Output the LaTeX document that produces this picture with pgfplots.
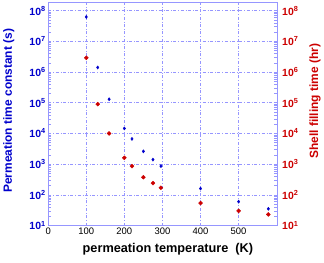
\documentclass[border=0pt]{standalone}
\usepackage{pgfplots}
\pgfplotsset{compat=1.18}
\usepackage{fontspec}
\setmainfont{Liberation Sans}
\definecolor{gridc}{RGB}{150,150,255}
\definecolor{bl}{RGB}{0,0,204}
\definecolor{rd}{RGB}{204,0,0}
\begin{document}
\begin{tikzpicture}
\begin{axis}[
  clip=false,
  scale only axis, width=229bp, height=224bp,
  xmin=0, xmax=600, ymode=log, ymin=10, ymax=1.9e8,
  ytick={1e1,1e2,1e3,1e4,1e5,1e6,1e7,1e8},
  yticklabels={\textbf{10\textsuperscript{1}},\textbf{10\textsuperscript{2}},\textbf{10\textsuperscript{3}},\textbf{10\textsuperscript{4}},\textbf{10\textsuperscript{5}},\textbf{10\textsuperscript{6}},\textbf{10\textsuperscript{7}},\textbf{10\textsuperscript{8}}},
  minor ytick={},
  tick align=inside, major tick length=3bp,
  every tick/.style={gridc},
  axis line style={gridc},
  yticklabel style={font=\fontsize{10.5}{11}\selectfont, bl, xshift=1bp},
  xticklabel style={font=\fontsize{9.5}{10}\selectfont, /pgf/number format/assume math mode=true, yshift=1bp},
  axis y line*=left, axis x line*=box,
  xtick={0,100,200,300,400,500},
  grid=major, grid style={gridc, dash dot, line width=0.6pt},
  xlabel={permeation temperature\ \ (K)},
  ylabel={Permeation time constant (s)},
  every axis y label/.style={at={(axis description cs:-0.172,0.513)}, rotate=90, anchor=center, font=\fontsize{12}{13}\selectfont\bfseries, text=bl},
  every axis x label/.style={at={(axis description cs:0.524,-0.108)}, anchor=center, font=\fontsize{12.8}{14}\selectfont\bfseries},
  separate axis lines,
  ]
\addplot[only marks, mark=diamond*, mark size=1.6pt, color=bl] coordinates {
(100,6.2e7) (130,1.4e6) (160,1.3e5) (200,1.45e4) (220,6.6e3) (250,2.6e3)
(275,1.4e3) (296,860) (400,160) (500,60) (578,35)
};
\path (axis description cs:-0.2096,-0.1652) rectangle (axis description cs:1.2052,1.0089);
\end{axis}
\begin{axis}[
  scale only axis, width=229bp, height=224bp,
  xmin=0, xmax=600, ymode=log, ymin=10, ymax=1.9e8,
  ytick={1e1,1e2,1e3,1e4,1e5,1e6,1e7,1e8},
  yticklabels={\textbf{10\textsuperscript{1}},\textbf{10\textsuperscript{2}},\textbf{10\textsuperscript{3}},\textbf{10\textsuperscript{4}},\textbf{10\textsuperscript{5}},\textbf{10\textsuperscript{6}},\textbf{10\textsuperscript{7}},\textbf{10\textsuperscript{8}}},
  minor ytick={},
  tick align=inside, major tick length=3bp,
  every tick/.style={gridc},
  axis line style={gridc},
  yticklabel style={font=\fontsize{10.5}{11}\selectfont, rd, xshift=2bp},
  axis y line*=right, axis x line=none,
  ylabel={Shell filling time (hr)},
  every axis y label/.style={at={(axis description cs:1.168,0.556)}, rotate=90, anchor=center, font=\fontsize{12}{13}\selectfont\bfseries, text=rd},
  ]
\addplot[only marks, mark=*, mark size=2pt, color=rd] coordinates {
(100,2.9e6) (130,9e4) (160,1e4) (200,1.6e3) (220,860) (250,375)
(275,240) (296,170) (400,54) (500,30) (578,23)
};
\end{axis}
\end{tikzpicture}
\end{document}
